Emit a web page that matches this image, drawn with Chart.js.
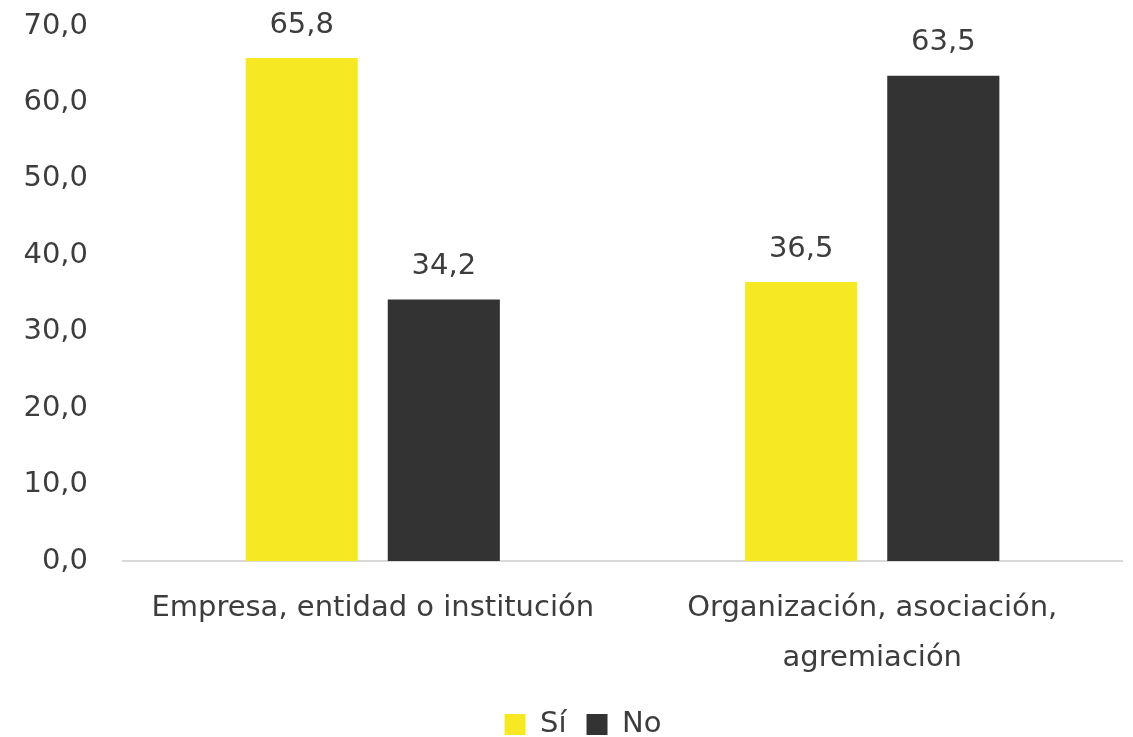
<!DOCTYPE html>
<html>
<head>
<meta charset="utf-8">
<script src="https://cdn.jsdelivr.net/npm/chart.js@4"></script>
<style>
  html, body { margin: 0; padding: 0; background: #fff; }
  #wrap { width: 1133px; height: 737px; }
</style>
</head>
<body>
<div id="wrap"><canvas id="barChart"></canvas></div>
<script>
// Data
const categories = [
  "Empresa, entidad o institución",
  ["Organización, asociación,", "agremiación"],
];
const siValues = [65.8, 36.5];
const noValues = [34.2, 63.5];
const seriesNames = ["Sí", "No"];

const fontFamily = "'DejaVu Sans', 'Open Sans', sans-serif";
const textColor = "#3d3d3d";

// comma decimal
const fmt = (v) => v.toFixed(1).replace(".", ",");

// draws the value above each bar
const valueLabels = {
  id: "valueLabels",
  afterDatasetsDraw(chart) {
    const ctx = chart.ctx;
    ctx.save();
    ctx.font = "29px " + fontFamily;
    ctx.fillStyle = textColor;
    ctx.textAlign = "center";
    ctx.textBaseline = "middle";
    chart.data.datasets.forEach((ds, i) => {
      chart.getDatasetMeta(i).data.forEach((bar, j) => {
        ctx.fillText(fmt(ds.data[j]), bar.x, bar.y - 33);
      });
    });
    ctx.restore();
  },
};

// legend in the original is centred a bit right of the canvas middle
const shiftLegend = {
  id: "shiftLegend",
  afterLayout(chart) {
    if (chart.legend) chart.legend.left = 44;
  },
};

const ctx = document.getElementById("barChart").getContext("2d");

const barChart = new Chart(ctx, {
  type: "bar",
  data: {
    labels: categories,
    datasets: [
      {
        label: seriesNames[0],
        data: siValues,
        backgroundColor: "#f7e824",
      },
      {
        label: seriesNames[1],
        data: noValues,
        backgroundColor: "#333333",
      },
    ],
  },
  options: {
    responsive: true,
    maintainAspectRatio: false,
    animation: false,
    categoryPercentage: 0.569,
    barPercentage: 0.789,
    layout: {
      padding: { top: 26, right: 11, left: 0, bottom: -12 },
    },
    scales: {
      y: {
        min: 0,
        max: 70,
        ticks: {
          stepSize: 10,
          color: textColor,
          font: { family: fontFamily, size: 29 },
          callback: (v) => fmt(v),
          padding: 8,
        },
        grid: { display: false, tickLength: 27 },
        border: { display: false },
        afterFit: (scale) => { scale.width = 123; },
      },
      x: {
        ticks: {
          color: textColor,
          font: { family: fontFamily, size: 29, lineHeight: 1.72 },
          padding: 15,
          maxRotation: 0,
        },
        grid: { display: false },
        border: { color: "#d9d9d9", width: 2 },
        afterFit: (scale) => { scale.height = 129; },
      },
    },
    plugins: {
      legend: {
        position: "bottom",
        labels: {
          color: textColor,
          font: { family: fontFamily, size: 29, lineHeight: 1 },
          boxWidth: 21,
          boxHeight: 21,
          padding: 20,
          useBorderRadius: false,
        },
      },
      tooltip: { enabled: false },
    },
  },
  plugins: [valueLabels, shiftLegend],
});
</script>
</body>
</html>
